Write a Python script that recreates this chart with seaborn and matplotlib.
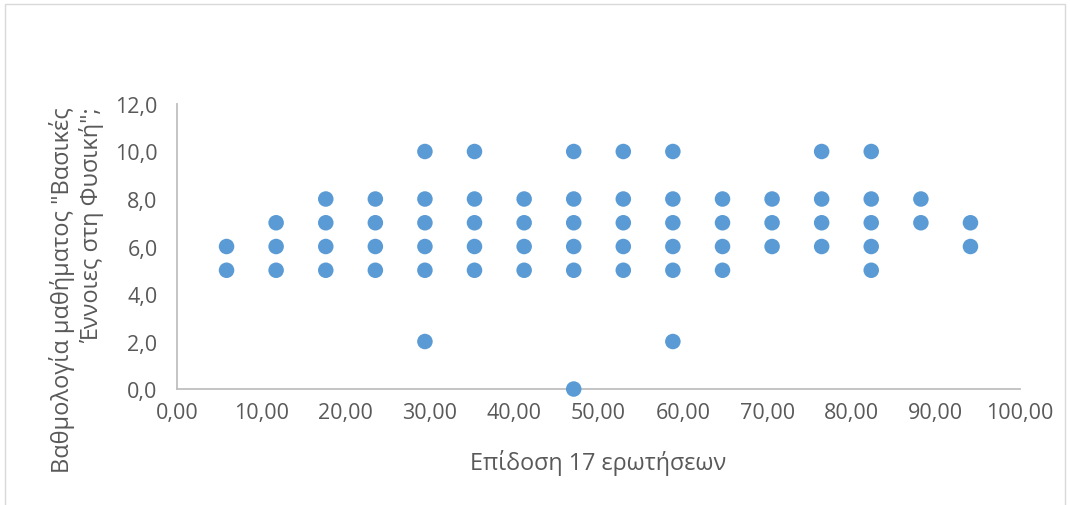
import matplotlib
matplotlib.use("Agg")
import matplotlib.pyplot as plt
from matplotlib.ticker import FuncFormatter, MultipleLocator
from matplotlib.patches import Rectangle
import seaborn as sns
import pandas as pd

# Performance on the 17 questions (% correct) and the grade in the course
performance = [
    5.88, 5.88,
    11.76, 11.76, 11.76,
    17.65, 17.65, 17.65, 17.65,
    23.53, 23.53, 23.53, 23.53,
    29.41, 29.41, 29.41, 29.41, 29.41, 29.41,
    35.29, 35.29, 35.29, 35.29, 35.29,
    41.18, 41.18, 41.18, 41.18,
    47.06, 47.06, 47.06, 47.06, 47.06, 47.06,
    52.94, 52.94, 52.94, 52.94, 52.94,
    58.82, 58.82, 58.82, 58.82, 58.82, 58.82,
    64.71, 64.71, 64.71, 64.71,
    70.59, 70.59, 70.59,
    76.47, 76.47, 76.47, 76.47,
    82.35, 82.35, 82.35, 82.35, 82.35,
    88.24, 88.24,
    94.12, 94.12,
]
grade = [
    5, 6,
    5, 6, 7,
    5, 6, 7, 8,
    5, 6, 7, 8,
    2, 5, 6, 7, 8, 10,
    5, 6, 7, 8, 10,
    5, 6, 7, 8,
    0, 5, 6, 7, 8, 10,
    5, 6, 7, 8, 10,
    2, 5, 6, 7, 8, 10,
    5, 6, 7, 8,
    6, 7, 8,
    6, 7, 8, 10,
    5, 6, 7, 8, 10,
    7, 8,
    6, 7,
]

x_label = "Επίδοση 17 ερωτήσεων"
y_label = "Βαθμολογία μαθήματος \"Βασικές\nΈννοιες στη Φυσική\";"

df = pd.DataFrame({"x": performance, "y": grade})

sns.set_style("white")
plt.rcParams["font.family"] = ["Open Sans", "DejaVu Sans"]

fig = plt.figure(figsize=(10.70, 5.06), dpi=100)
ax = fig.add_axes([0.1654, 0.2292, 0.7879, 0.5633])

sns.scatterplot(data=df, x="x", y="y", ax=ax, s=125, color="#5B9BD5",
                edgecolor="none", linewidth=0, clip_on=False, zorder=3)

ax.set_xlim(0, 100)
ax.set_ylim(0, 12)
ax.xaxis.set_major_locator(MultipleLocator(10))
ax.yaxis.set_major_locator(MultipleLocator(2))
ax.xaxis.set_major_formatter(FuncFormatter(lambda v, p: f"{v:.2f}".replace(".", ",")))
ax.yaxis.set_major_formatter(FuncFormatter(lambda v, p: f"{v:.1f}".replace(".", ",")))

for side in ("top", "right"):
    ax.spines[side].set_visible(False)
for side in ("left", "bottom"):
    ax.spines[side].set_color("#BFBFBF")
    ax.spines[side].set_linewidth(1.3)

ax.tick_params(axis="both", length=0, labelsize=15.5, labelcolor="#595959")
ax.tick_params(axis="x", pad=9)
ax.tick_params(axis="y", pad=14)

ax.set_xlabel(x_label, fontsize=16.8, color="#595959", labelpad=19)
ax.set_ylabel(y_label, fontsize=17, color="#595959", linespacing=1.25,
              multialignment="right")
ax.yaxis.set_label_coords(-0.086, 0.35)

# Light frame around the whole chart area
fig.patches.append(Rectangle((0.005, -0.01), 0.99, 1.0, transform=fig.transFigure,
                             fill=False, edgecolor="#D9D9D9", linewidth=1.0))

fig.savefig("out.png", dpi=100, facecolor="white")
